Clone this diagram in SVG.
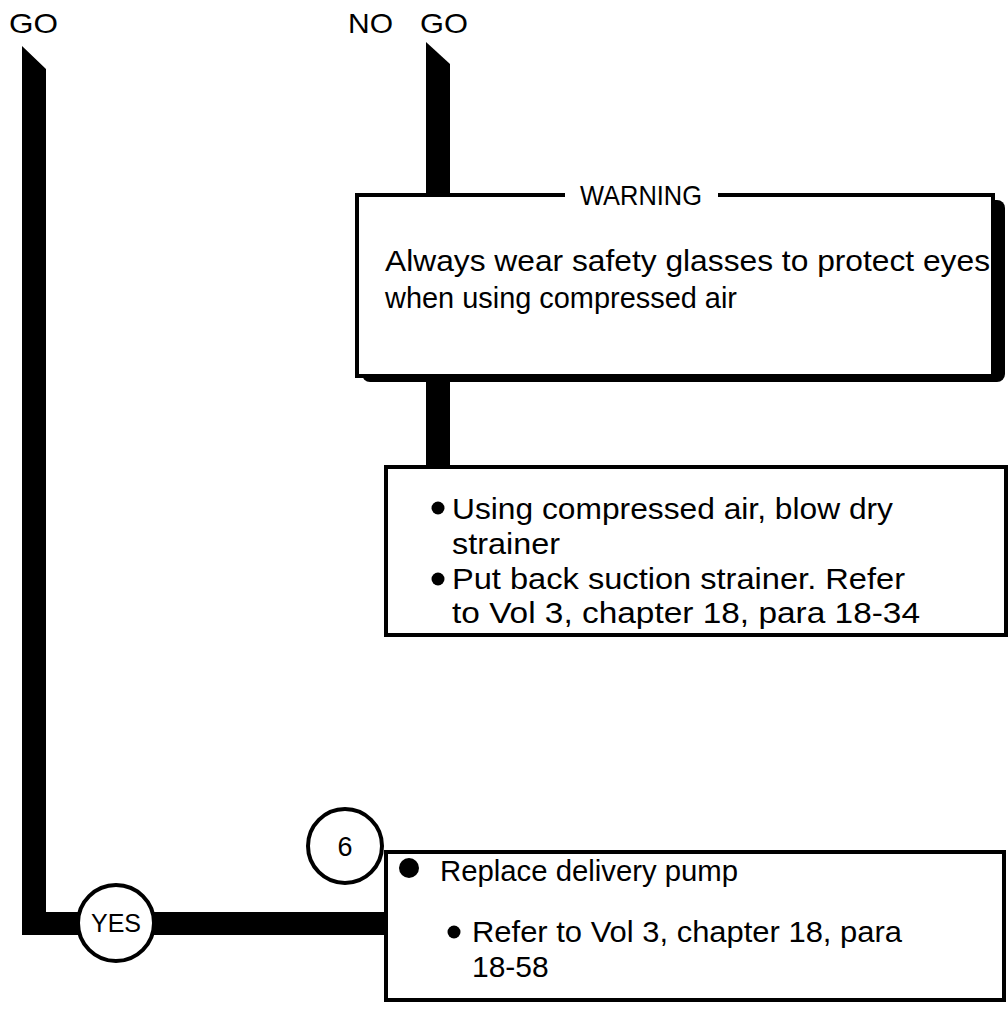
<svg xmlns="http://www.w3.org/2000/svg" width="1008" height="1021" viewBox="0 0 1008 1021">
<style>
text{font-family:"Liberation Sans","DejaVu Sans",sans-serif;fill:#000}
.t{font-size:30px}
.h{font-size:28px}
.box{fill:#fff;stroke:#000;stroke-width:4}
.sh{fill:#000}
.circ{fill:#fff;stroke:#000;stroke-width:4}
</style>
<rect width="1008" height="1021" fill="#fff"/>
<g id="labels">
<text class="h" x="9" y="33" textLength="49" lengthAdjust="spacingAndGlyphs">GO</text>
<text class="h" x="348" y="33" textLength="45" lengthAdjust="spacingAndGlyphs">NO</text>
<text class="h" x="420" y="33" textLength="48" lengthAdjust="spacingAndGlyphs">GO</text>
</g>
<g id="connectors">
<path d="M22,46 L46,69 L46,912 L388,912 L388,935 L22,935 Z" fill="#000"/>
<path d="M426,42 L450,64 L450,196 L426,196 Z" fill="#000"/>
<rect x="426" y="376" width="24" height="93" fill="#000"/>
</g>
<g id="warning">
<rect x="362" y="200" width="643" height="182" rx="8" class="sh"/>
<path d="M565,195 L357,195 L357,376 L993,376 L993,195 L718,195" fill="#fff" stroke="#000" stroke-width="4"/>
<text class="h" x="580" y="205" textLength="122" lengthAdjust="spacingAndGlyphs">WARNING</text>
<text class="t" x="385" y="271" textLength="605" lengthAdjust="spacingAndGlyphs">Always wear safety glasses to protect eyes</text>
<text class="t" x="385" y="308" textLength="352" lengthAdjust="spacingAndGlyphs">when using compressed air</text>
</g>
<g id="step-strainer">
<rect x="386" y="467" width="620" height="168" class="box"/>
<circle cx="438" cy="508" r="6.5"/>
<text class="t" x="452" y="519" textLength="441" lengthAdjust="spacingAndGlyphs">Using compressed air, blow dry</text>
<text class="t" x="452" y="554" textLength="108" lengthAdjust="spacingAndGlyphs">strainer</text>
<circle cx="438" cy="579" r="6.5"/>
<text class="t" x="452" y="589" textLength="453" lengthAdjust="spacingAndGlyphs">Put back suction strainer.  Refer</text>
<text class="t" x="452" y="623" textLength="468" lengthAdjust="spacingAndGlyphs">to Vol 3, chapter 18, para 18-34</text>
</g>
<g id="step-6">
<rect x="386" y="852" width="618" height="148" class="box"/>
<circle cx="409" cy="868" r="10"/>
<text class="t" x="440" y="881" textLength="298" lengthAdjust="spacingAndGlyphs">Replace delivery pump</text>
<circle cx="454" cy="932" r="6.5"/>
<text class="t" x="472" y="942" textLength="430" lengthAdjust="spacingAndGlyphs">Refer to Vol 3, chapter 18, para</text>
<text class="t" x="472" y="977">18-58</text>
</g>
<g id="yes">
<circle cx="116" cy="923" r="38" class="circ"/>
<text x="116" y="932" text-anchor="middle" font-size="25">YES</text>
</g>
<g id="n6">
<circle cx="345" cy="846" r="37" class="circ"/>
<text x="345" y="856" text-anchor="middle" font-size="27">6</text>
</g>
</svg>
